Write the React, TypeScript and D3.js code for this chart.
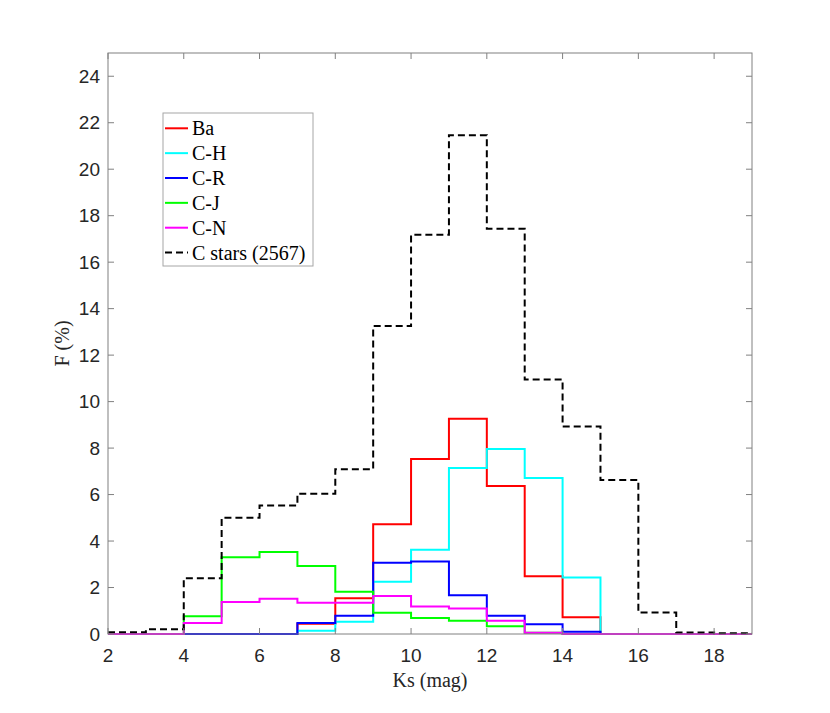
import React, { useEffect, useRef } from "react";
import * as d3 from "d3";

// bin edges 2..19, one value per bin (Ks bin i spans edges[i]..edges[i+1])
const edges = [2, 3, 4, 5, 6, 7, 8, 9, 10, 11, 12, 13, 14, 15, 16, 17, 18, 19];

const ba = [0, 0, 0, 0, 0, 0.44, 1.54, 4.72, 7.53, 9.26, 6.37, 2.48, 0.72, 0, 0, 0, 0];
const cH = [0, 0, 0, 0, 0, 0.14, 0.53, 2.25, 3.63, 7.14, 7.96, 6.71, 2.43, 0, 0, 0, 0];
const cR = [0, 0, 0, 0, 0, 0.47, 0.78, 3.07, 3.12, 1.67, 0.78, 0.42, 0.1, 0, 0, 0, 0];
const cJ = [0, 0, 0.76, 3.3, 3.53, 2.93, 1.82, 0.91, 0.69, 0.57, 0.33, 0.05, 0, 0, 0, 0, 0];
const cN = [0, 0, 0.47, 1.38, 1.52, 1.35, 1.35, 1.64, 1.18, 1.1, 0.57, 0.05, 0, 0, 0, 0, 0];
const cStars = [0.07, 0.2, 2.4, 5.0, 5.53, 6.04, 7.09, 13.25, 17.18, 21.46, 17.44, 10.95, 8.93, 6.63, 0.92, 0.06, 0.03];

const seriesNames = ["Ba", "C-H", "C-R", "C-J", "C-N", "C stars (2567)"];
const seriesValues = [ba, cH, cR, cJ, cN, cStars];
const seriesColors = ["#ff0000", "#00ffff", "#0000ff", "#00ff00", "#ff00ff", "#000000"];

const xTicks = [2, 4, 6, 8, 10, 12, 14, 16, 18];
const yTicks = [0, 2, 4, 6, 8, 10, 12, 14, 16, 18, 20, 22, 24];

const App: React.FC = () => {
  const ref = useRef<SVGSVGElement | null>(null);
  const width = 830;
  const height = 713;

  useEffect(() => {
    const svg = d3.select(ref.current);
    svg.selectAll("*").remove();

    const margin = { top: 53, right: 78, bottom: 79, left: 108 };
    const x = d3.scaleLinear().domain([2, 19]).range([margin.left, width - margin.right]);
    const y = d3.scaleLinear().domain([0, 25]).range([height - margin.bottom, margin.top]);

    const x0 = x.range()[0], x1 = x.range()[1];
    const y0 = y.range()[0], y1 = y.range()[1];
    const axisColor = "#808080";
    const textColor = "#262626";

    svg.append("rect").attr("width", width).attr("height", height).attr("fill", "#fff");

    // stairs
    const line = d3
      .line<[number, number]>()
      .x((d) => x(d[0]))
      .y((d) => y(d[1]))
      .curve(d3.curveStepAfter);

    seriesValues.forEach((vals, i) => {
      const pts: [number, number][] = vals.map((v, k) => [edges[k], v]);
      pts.push([edges[edges.length - 1], vals[vals.length - 1]]);
      svg
        .append("path")
        .attr("d", line(pts))
        .attr("fill", "none")
        .attr("stroke", seriesColors[i])
        .attr("stroke-width", 2)
        .attr("stroke-dasharray", i === 5 ? "7,4" : null);
    });

    // box
    svg
      .append("rect")
      .attr("x", x0)
      .attr("y", y1)
      .attr("width", x1 - x0)
      .attr("height", y0 - y1)
      .attr("fill", "none")
      .attr("stroke", axisColor)
      .attr("stroke-width", 1);

    const tickLen = 6;
    const ticks = svg.append("g").attr("stroke", axisColor).attr("stroke-width", 1);
    xTicks.forEach((t) => {
      ticks.append("line").attr("x1", x(t)).attr("x2", x(t)).attr("y1", y0).attr("y2", y0 - tickLen);
      ticks.append("line").attr("x1", x(t)).attr("x2", x(t)).attr("y1", y1).attr("y2", y1 + tickLen);
    });
    yTicks.forEach((t) => {
      ticks.append("line").attr("x1", x0).attr("x2", x0 + tickLen).attr("y1", y(t)).attr("y2", y(t));
      ticks.append("line").attr("x1", x1).attr("x2", x1 - tickLen).attr("y1", y(t)).attr("y2", y(t));
    });

    const sans = "'Liberation Sans', Arial, sans-serif";
    const serif = "'Liberation Serif', 'Times New Roman', serif";

    svg
      .append("g")
      .selectAll("text")
      .data(xTicks)
      .enter()
      .append("text")
      .attr("x", (d) => x(d))
      .attr("y", 662)
      .attr("text-anchor", "middle")
      .attr("font-family", sans)
      .attr("font-size", 19)
      .attr("fill", textColor)
      .text((d) => d);

    svg
      .append("g")
      .selectAll("text")
      .data(yTicks)
      .enter()
      .append("text")
      .attr("x", 100)
      .attr("y", (d) => y(d))
      .attr("dy", "0.35em")
      .attr("text-anchor", "end")
      .attr("font-family", sans)
      .attr("font-size", 19)
      .attr("fill", textColor)
      .text((d) => d);

    svg
      .append("text")
      .attr("x", (x0 + x1) / 2)
      .attr("y", 687)
      .attr("text-anchor", "middle")
      .attr("font-family", serif)
      .attr("font-size", 20)
      .attr("fill", textColor)
      .text("Ks (mag)");

    svg
      .append("text")
      .attr("transform", `translate(69, ${(y0 + y1) / 2}) rotate(-90)`)
      .attr("text-anchor", "middle")
      .attr("font-family", serif)
      .attr("font-size", 20)
      .attr("fill", textColor)
      .text("F (%)");

    // legend
    const lg = svg.append("g");
    lg.append("rect")
      .attr("x", 163)
      .attr("y", 113)
      .attr("width", 150)
      .attr("height", 153)
      .attr("fill", "#fff")
      .attr("stroke", "#a6a6a6")
      .attr("stroke-width", 1);
    seriesNames.forEach((name, i) => {
      const cy = 128.3 + i * 24.85;
      lg.append("line")
        .attr("x1", 165)
        .attr("x2", 188)
        .attr("y1", cy)
        .attr("y2", cy)
        .attr("stroke", seriesColors[i])
        .attr("stroke-width", 2)
        .attr("stroke-dasharray", i === 5 ? "7,4" : null);
      lg.append("text")
        .attr("x", 192)
        .attr("y", cy)
        .attr("dy", "0.35em")
        .attr("font-family", serif)
        .attr("font-size", 20)
        .attr("fill", "#000")
        .text(name);
    });
  }, []);

  return (
    <svg
      ref={ref}
      width={width}
      height={height}
      style={{ position: "absolute", left: 0, top: 0 }}
    ></svg>
  );
};

export default App;
